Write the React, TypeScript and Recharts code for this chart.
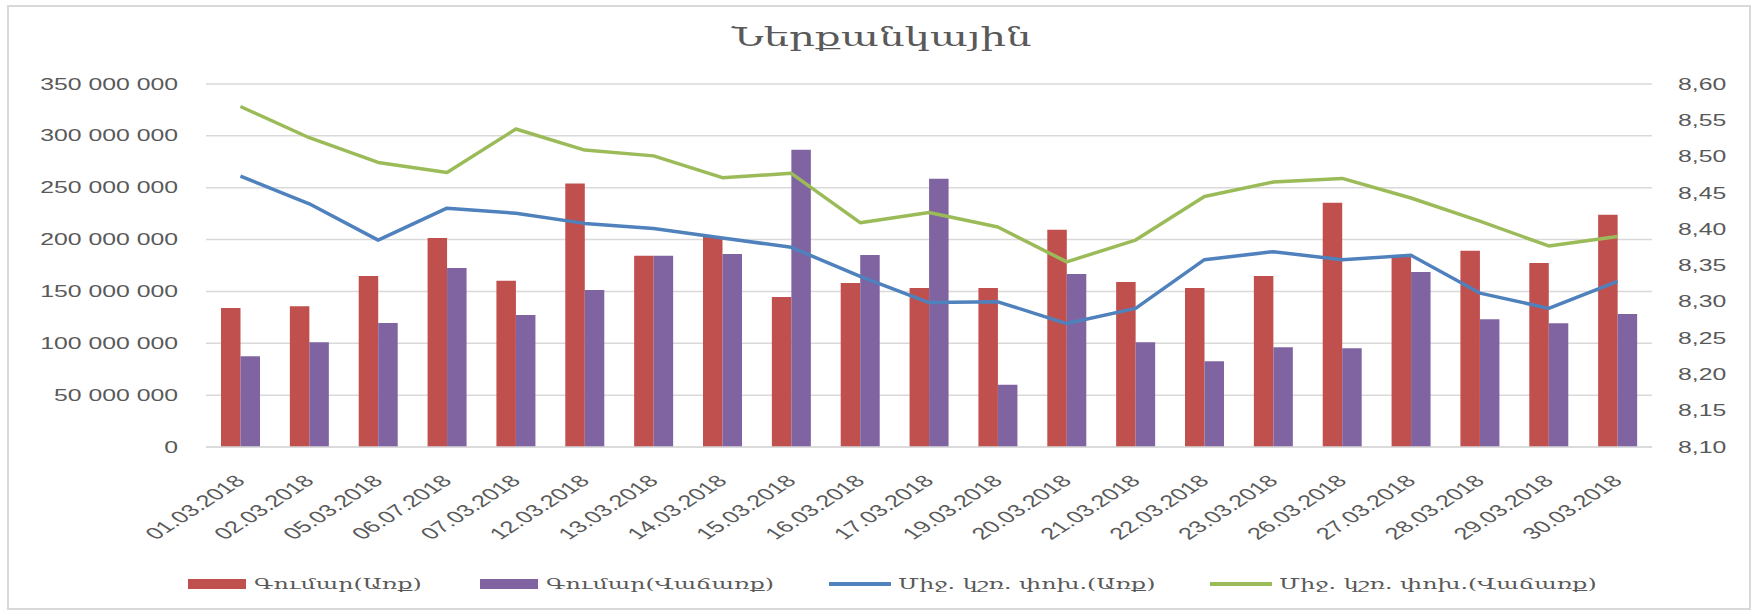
import { Bar, CartesianGrid, ComposedChart, Legend, Line, XAxis, YAxis } from 'recharts';

const dates = [
  '01.03.2018', '02.03.2018', '05.03.2018', '06.07.2018', '07.03.2018', '12.03.2018', '13.03.2018',
  '14.03.2018', '15.03.2018', '16.03.2018', '17.03.2018', '19.03.2018', '20.03.2018', '21.03.2018',
  '22.03.2018', '23.03.2018', '26.03.2018', '27.03.2018', '28.03.2018', '29.03.2018', '30.03.2018',
];

// amounts, AMD
const buyAmount = [
  134000000, 135600000, 164900000, 201500000, 160400000, 254000000, 184500000,
  203000000, 144600000, 158100000, 153300000, 153300000, 209500000, 159100000,
  153300000, 164900000, 235600000, 184500000, 189300000, 177400000, 224000000,
];
const sellAmount = [
  87400000, 100900000, 119600000, 172600000, 127300000, 151400000, 184500000,
  186100000, 286700000, 185100000, 258700000, 60100000, 166800000, 100900000,
  82600000, 96100000, 95100000, 168800000, 123100000, 119200000, 128200000,
];

// weighted average rates
const buyRate = [
  8.473, 8.435, 8.385, 8.429, 8.422, 8.408, 8.401,
  8.388, 8.375, 8.335, 8.299, 8.3, 8.27, 8.291,
  8.358, 8.369, 8.358, 8.364, 8.312, 8.291, 8.328,
];
const sellRate = [
  8.569, 8.526, 8.492, 8.478, 8.538, 8.509, 8.501,
  8.471, 8.477, 8.409, 8.423, 8.403, 8.355, 8.385,
  8.445, 8.465, 8.47, 8.443, 8.411, 8.377, 8.39,
];

const leftTicks = [0, 50000000, 100000000, 150000000, 200000000, 250000000, 300000000, 350000000];
const rightTicks = [8.1, 8.15, 8.2, 8.25, 8.3, 8.35, 8.4, 8.45, 8.5, 8.55, 8.6];

const seriesNames = ['Գումար(Առք)', 'Գումար(Վաճառք)', 'Միջ. կշռ. փոխ.(Առք)', 'Միջ. կշռ. փոխ.(Վաճառք)'];
const title = 'Ներքանկային';

const RED = '#C0504D';
const PURPLE = '#8064A2';
const BLUE = '#4F81BD';
const GREEN = '#9BBB59';
const TEXT = '#595959';
const GRID = '#D9D9D9';
const SX = 1.55; // the original picture is stretched sideways
const NUM_FONT = "'Liberation Sans', Arial, sans-serif";
const ARM_FONT = "'DejaVu Serif', 'DejaVu Sans', serif";

const chartData = dates.map((d, i) => ({
  date: d,
  buyAmount: buyAmount[i],
  sellAmount: sellAmount[i],
  buyRate: buyRate[i],
  sellRate: sellRate[i],
}));

const fmtLeft = (v: number) => String(v).replace(/\B(?=(\d{3})+(?!\d))/g, ' ');
const fmtRight = (v: number) => v.toFixed(2).replace('.', ',');

const LeftTick = ({ x, y, payload }: any) => (
  <text transform={`translate(${x},${y}) scale(${SX},1)`} textAnchor="end" dy="0.35em"
    fill={TEXT} fontSize={16} fontFamily={NUM_FONT}>
    {fmtLeft(payload.value)}
  </text>
);

const RightTick = ({ x, y, payload }: any) => (
  <text transform={`translate(${x},${y}) scale(${SX},1)`} textAnchor="start" dy="0.35em"
    fill={TEXT} fontSize={16} fontFamily={NUM_FONT}>
    {fmtRight(payload.value)}
  </text>
);

const DateTick = ({ x, y, payload }: any) => (
  <text transform={`translate(${x + 6},${y + 35}) scale(${SX},1) rotate(-45)`} textAnchor="end"
    fill={TEXT} fontSize={16.5} fontFamily={NUM_FONT}>
    {payload.value}
  </text>
);

// legend item start x, from the picture
const legendX = [188, 480, 829, 1210];
const legendColors = [RED, PURPLE, BLUE, GREEN];

const renderLegend = () => (
  <svg width={1756} height={30} style={{ display: 'block' }}>
    {seriesNames.map((name, i) => (
      <g key={name}>
        {i < 2 ? (
          <rect x={legendX[i]} y={9} width={58} height={10} fill={legendColors[i]} />
        ) : (
          <line x1={legendX[i]} x2={legendX[i] + 62} y1={14} y2={14} stroke={legendColors[i]} strokeWidth={4} />
        )}
        <text transform={`translate(${legendX[i] + (i < 2 ? 66 : 69)},14) scale(${SX},1)`} dy="0.35em"
          fill={TEXT} fontSize={15.3} fontFamily={ARM_FONT}>
          {name}
        </text>
      </g>
    ))}
  </svg>
);

export default function App() {
  return (
    <div style={{ position: 'absolute', left: 0, top: 0, width: 1756, height: 613, background: '#fff' }}>
      <div style={{
        position: 'absolute', left: 7, top: 5, width: 1740, height: 601,
        border: `2px solid ${GRID}`,
      }} />
      <div style={{
        position: 'absolute', left: 4, top: 22, width: 1756, textAlign: 'center',
        fontFamily: ARM_FONT, fontSize: 26, color: TEXT, lineHeight: '30px',
      }}>
        <span style={{ display: 'inline-block', transform: `scaleX(${SX})` }}>{title}</span>
      </div>
      <div style={{ position: 'absolute', left: 0, top: 0 }}>
        <ComposedChart width={1756} height={613} data={chartData}
          margin={{ top: 84, right: 0, bottom: 76, left: 0 }} barGap={0}>
          <CartesianGrid yAxisId="left" vertical={false} stroke={GRID} strokeWidth={1.5} />
          <XAxis dataKey="date" interval={0} height={90} tickLine={false} tickSize={0} tickMargin={0}
            axisLine={{ stroke: GRID, strokeWidth: 1.5 }} tick={<DateTick />} />
          <YAxis yAxisId="left" orientation="left" width={206} domain={[0, 350000000]} ticks={leftTicks}
            axisLine={false} tickLine={false} tickSize={0} tickMargin={28} tick={<LeftTick />} />
          <YAxis yAxisId="right" orientation="right" width={104} domain={[8.1, 8.6]} ticks={rightTicks}
            axisLine={false} tickLine={false} tickSize={0} tickMargin={26} tick={<RightTick />} />
          <Legend verticalAlign="middle" align="center" layout="horizontal" content={renderLegend}
            wrapperStyle={{ left: 0, top: 570, width: 1756, height: 30 }} />
          <Bar yAxisId="left" dataKey="buyAmount" name={seriesNames[0]} fill={RED} barSize={19.5}
            isAnimationActive={false} />
          <Bar yAxisId="left" dataKey="sellAmount" name={seriesNames[1]} fill={PURPLE} barSize={19.5}
            isAnimationActive={false} />
          <Line yAxisId="right" type="linear" dataKey="buyRate" name={seriesNames[2]} stroke={BLUE}
            strokeWidth={3.5} strokeLinejoin="round" dot={false} activeDot={false} isAnimationActive={false} />
          <Line yAxisId="right" type="linear" dataKey="sellRate" name={seriesNames[3]} stroke={GREEN}
            strokeWidth={3.5} strokeLinejoin="round" dot={false} activeDot={false} isAnimationActive={false} />
        </ComposedChart>
      </div>
    </div>
  );
}
